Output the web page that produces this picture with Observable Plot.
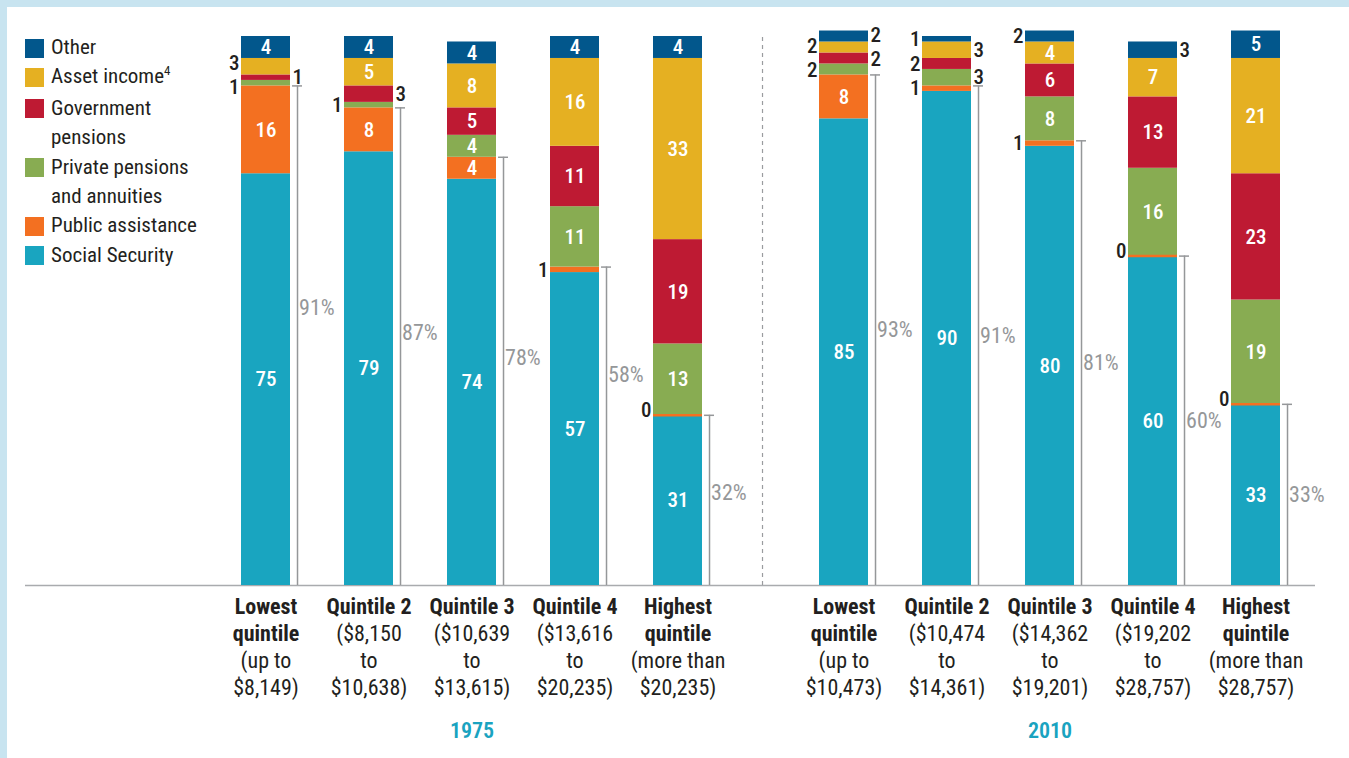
<!DOCTYPE html>
<html><head><meta charset="utf-8">
<script src="https://cdn.jsdelivr.net/npm/d3@7"></script>
<script src="https://cdn.jsdelivr.net/npm/@observablehq/plot@0.6"></script>
<style>
html,body{margin:0;padding:0;}
body{width:1349px;height:758px;background:#c8e4f0;position:relative;overflow:hidden;font-family:Roboto,sans-serif;font-stretch:75%;}
#panel{position:absolute;left:7px;top:7px;right:0;bottom:0;background:#fff;}
#chart{position:absolute;left:0;top:0;}
#chart svg text{font-stretch:75%;}
#legend{position:absolute;left:25px;top:33px;font-size:21px;color:#231f20;line-height:29.4px;font-family:Roboto,sans-serif;font-stretch:75%;}
.row{position:relative;padding-left:26px;white-space:nowrap;}
.sw{position:absolute;left:0;top:5.5px;width:19px;height:19px;}
sup{font-size:13px;vertical-align:0;position:relative;top:-8px;}
</style></head><body>
<div id="panel"></div>
<div id="chart"></div>
<div id="legend"></div>
<script>
// ---- data ----
const years = ["1975", "2010"];
const quintiles = ["Lowest", "Quintile 2", "Quintile 3", "Quintile 4", "Highest"];
// bottom to top stacking order
const categories = ["Social Security", "Public assistance", "Private pensions and annuities", "Government pensions", "Asset income", "Other"];
const colors = ["#19a5c0", "#f37021", "#88ac52", "#be1a33", "#e5b022", "#02578c"];
const legendLabels = ["Other", "Asset income<sup>4</sup>", "Government<br>pensions", "Private pensions<br>and annuities", "Public assistance", "Social Security"];

const ss1975 = [75, 79, 74, 57, 31];
const pa1975 = [16, 8, 4, 1, 0];
const pp1975 = [1, 1, 4, 11, 13];
const gp1975 = [1, 3, 5, 11, 19];
const ai1975 = [3, 5, 8, 16, 33];
const ot1975 = [4, 4, 4, 4, 4];

const ss2010 = [85, 90, 80, 60, 33];
const pa2010 = [8, 1, 1, 0, 0];
const pp2010 = [2, 3, 8, 16, 19];
const gp2010 = [2, 2, 6, 13, 23];
const ai2010 = [2, 3, 4, 7, 21];
const ot2010 = [2, 1, 2, 3, 5];

// share from Social Security + public assistance (bracket labels)
const pct1975 = [91, 87, 78, 58, 32];
const pct2010 = [93, 91, 81, 60, 33];
// where the 1975 bracket labels sit (in % units); 2010 labels sit mid-bracket
const pctLabelAt1975 = [50.5, 46, 41.5, 38.3, 16.8];

const tickBold1975 = ["Lowest\nquintile", "Quintile 2", "Quintile 3", "Quintile 4", "Highest\nquintile"];
const tickSub1975 = ["(up to\n$8,149)", "($8,150\nto\n$10,638)", "($10,639\nto\n$13,615)", "($13,616\nto\n$20,235)", "(more than\n$20,235)"];
const tickBold2010 = ["Lowest\nquintile", "Quintile 2", "Quintile 3", "Quintile 4", "Highest\nquintile"];
const tickSub2010 = ["(up to\n$10,473)", "($10,474\nto\n$14,361)", "($14,362\nto\n$19,201)", "($19,202\nto\n$28,757)", "(more than\n$28,757)"];

// small values labelled outside the bar on the right (others go left)
const rightLabels = ["1975|Lowest|Government pensions", "1975|Quintile 2|Government pensions",
  "2010|Lowest|Other", "2010|Lowest|Government pensions",
  "2010|Quintile 2|Asset income", "2010|Quintile 2|Private pensions and annuities",
  "2010|Quintile 4|Other"];

// ---- layout ----
const W = 1349, H = 758;
const mL = 187, mR = 15, mT = 36, mB = 173;
const facetGap = 9;
const facetStep = (W - mL - mR + facetGap) / 2;
const xPad = 0.524;
const step = (facetStep - facetGap) / (quintiles.length + xPad);
const bw = step * (1 - xPad);
const lh = 27;
const fs = 22;
const pxPerUnit = (H - mT - mB) / 100;
const dark = "#231f20", gray = "#959799";

// ---- build tables ----
const series = {
  "1975": [ss1975, pa1975, pp1975, gp1975, ai1975, ot1975],
  "2010": [ss2010, pa2010, pp2010, gp2010, ai2010, ot2010]
};
const pcts = {"1975": pct1975, "2010": pct2010};
const pctAt = {"1975": pctLabelAt1975, "2010": null};
const bolds = {"1975": tickBold1975, "2010": tickBold2010};
const subs = {"1975": tickSub1975, "2010": tickSub2010};

const rows = [];
const bars = [];
for (const year of years) {
  quintiles.forEach((q, qi) => {
    let acc = 0;
    const barRows = [];
    categories.forEach((cat, ci) => {
      const v = series[year][ci][qi];
      const r = {year, q, cat, value: v, y1: acc, y2: acc + v, ly: acc + v / 2,
        side: rightLabels.includes(`${year}|${q}|${cat}`) ? "R" : "L"};
      rows.push(r); barRows.push(r);
      acc += v;
    });
    // spread outside labels on each side so they don't collide
    const minGap = 24 / pxPerUnit;
    for (const side of ["L", "R"]) {
      const outs = barRows.filter(d => d.value < 4 && d.value > 0 && d.side === side).sort((a, b) => b.ly - a.ly);
      for (let it = 0; it < 20; it++) {
        for (let i = 1; i < outs.length; i++) {
          const gap = outs[i - 1].ly - outs[i].ly;
          if (gap < minGap) {
            const push = (minGap - gap) / 2;
            outs[i - 1].ly += push; outs[i].ly -= push;
          }
        }
      }
    }
    const b = bolds[year][qi];
    const top = series[year][0][qi] + series[year][1][qi];
    bars.push({year, q, top, pct: pcts[year][qi],
      labelAt: pctAt[year] ? pctAt[year][qi] : top / 2,
      bold: b, sub: subs[year][qi], nBold: b.split("\n").length});
  });
}

const plot = Plot.plot({
  width: W, height: H,
  marginLeft: mL, marginRight: mR, marginTop: mT, marginBottom: mB,
  style: "font-family: Roboto, sans-serif; font-stretch: 75%; background: transparent; overflow: visible;",
  fx: {domain: years, paddingInner: facetGap / facetStep, paddingOuter: 0, axis: null, label: null},
  x: {domain: quintiles, padding: xPad, axis: null},
  y: {domain: [0, 100], axis: null},
  color: {domain: categories, range: colors},
  marks: [
    // baseline
    Plot.ruleY([{year: "1975"}], {fx: "year", y: () => 0, insetLeft: -(mL - 25), insetRight: -facetGap, stroke: "#a9abae", strokeWidth: 1.5}),
    Plot.ruleY([{year: "2010"}], {fx: "year", y: () => 0, insetRight: 19, stroke: "#a9abae", strokeWidth: 1.5}),
    // divider between years
    Plot.ruleX([{year: "2010", q: "Lowest"}], {fx: "year", x: "q", y1: () => 0, y2: () => 100,
      dx: -(step * xPad + bw / 2 + facetGap / 2 - 1.5), stroke: "#9a9c9f", strokeWidth: 1.2, strokeDasharray: "4,4"}),
    // stacked bars
    Plot.barY(rows, {fx: "year", x: "q", y1: "y1", y2: "y2", fill: "cat"}),
    // zero-value public assistance slivers
    Plot.tickY(rows.filter(d => d.value === 0 && d.cat === "Public assistance"), {fx: "year", x: "q", y: "y1", stroke: colors[1], strokeWidth: 2.5}),
    // brackets
    Plot.ruleX(bars, {fx: "year", x: "q", y1: () => 0, y2: "top", dx: bw / 2 + 7, stroke: gray, strokeWidth: 1.5}),
    Plot.tickY(bars, {fx: "year", x: "q", y: "top", dx: bw / 2 + 7, insetLeft: bw / 2 - 5, insetRight: bw / 2 - 5, stroke: gray, strokeWidth: 1.5}),
    Plot.text(bars, {fx: "year", x: "q", y: "labelAt", text: d => d.pct + "%", dx: bw / 2 + 8.5, textAnchor: "start", fill: gray, fontSize: fs}),
    // inside labels
    Plot.text(rows.filter(d => d.value >= 4), {fx: "year", x: "q", y: "ly", text: d => String(d.value), fill: "white", fontSize: fs - 1, fontWeight: 500}),
    // outside labels
    Plot.text(rows.filter(d => d.value < 4 && d.value > 0 && d.side === "L"), {fx: "year", x: "q", y: "ly", text: d => String(d.value), dx: -(bw / 2 + 2), textAnchor: "end", fill: dark, fontSize: fs - 1, fontWeight: 500}),
    Plot.text(rows.filter(d => d.value < 4 && d.value > 0 && d.side === "R"), {fx: "year", x: "q", y: "ly", text: d => String(d.value), dx: bw / 2 + 2, textAnchor: "start", fill: dark, fontSize: fs - 1, fontWeight: 500}),
    Plot.text(rows.filter(d => d.value === 0), {fx: "year", x: "q", y: "y1", text: d => String(d.value), dx: -(bw / 2 + 2), dy: -5, textAnchor: "end", fill: dark, fontSize: fs - 1, fontWeight: 500}),
    // category tick labels
    Plot.text(bars, {fx: "year", x: "q", y: () => 0, text: "bold", lineAnchor: "top", dy: 9, lineHeight: lh / fs, fontSize: fs, fontWeight: "bold", fill: dark}),
    Plot.text(bars.filter(d => d.nBold === 1), {fx: "year", x: "q", y: () => 0, text: "sub", lineAnchor: "top", dy: 9 + lh, lineHeight: lh / fs, fontSize: fs, fill: dark}),
    Plot.text(bars.filter(d => d.nBold === 2), {fx: "year", x: "q", y: () => 0, text: "sub", lineAnchor: "top", dy: 9 + 2 * lh, lineHeight: lh / fs, fontSize: fs, fill: dark}),
    // year labels
    Plot.text(years, {fx: d => d, text: d => d, frameAnchor: "bottom", lineAnchor: "middle", dy: 145, fill: "#1aa3c0", fontSize: fs, fontWeight: 600})
  ]
});
document.getElementById("chart").appendChild(plot);

// legend (top to bottom = reverse stacking order)
const legend = document.getElementById("legend");
categories.slice().reverse().forEach((cat, i) => {
  const row = document.createElement("div");
  row.className = "row";
  const sw = document.createElement("span");
  sw.className = "sw";
  sw.style.background = colors[categories.length - 1 - i];
  row.appendChild(sw);
  const t = document.createElement("span");
  t.innerHTML = legendLabels[i];
  row.appendChild(t);
  legend.appendChild(row);
});
</script>
</body></html>
